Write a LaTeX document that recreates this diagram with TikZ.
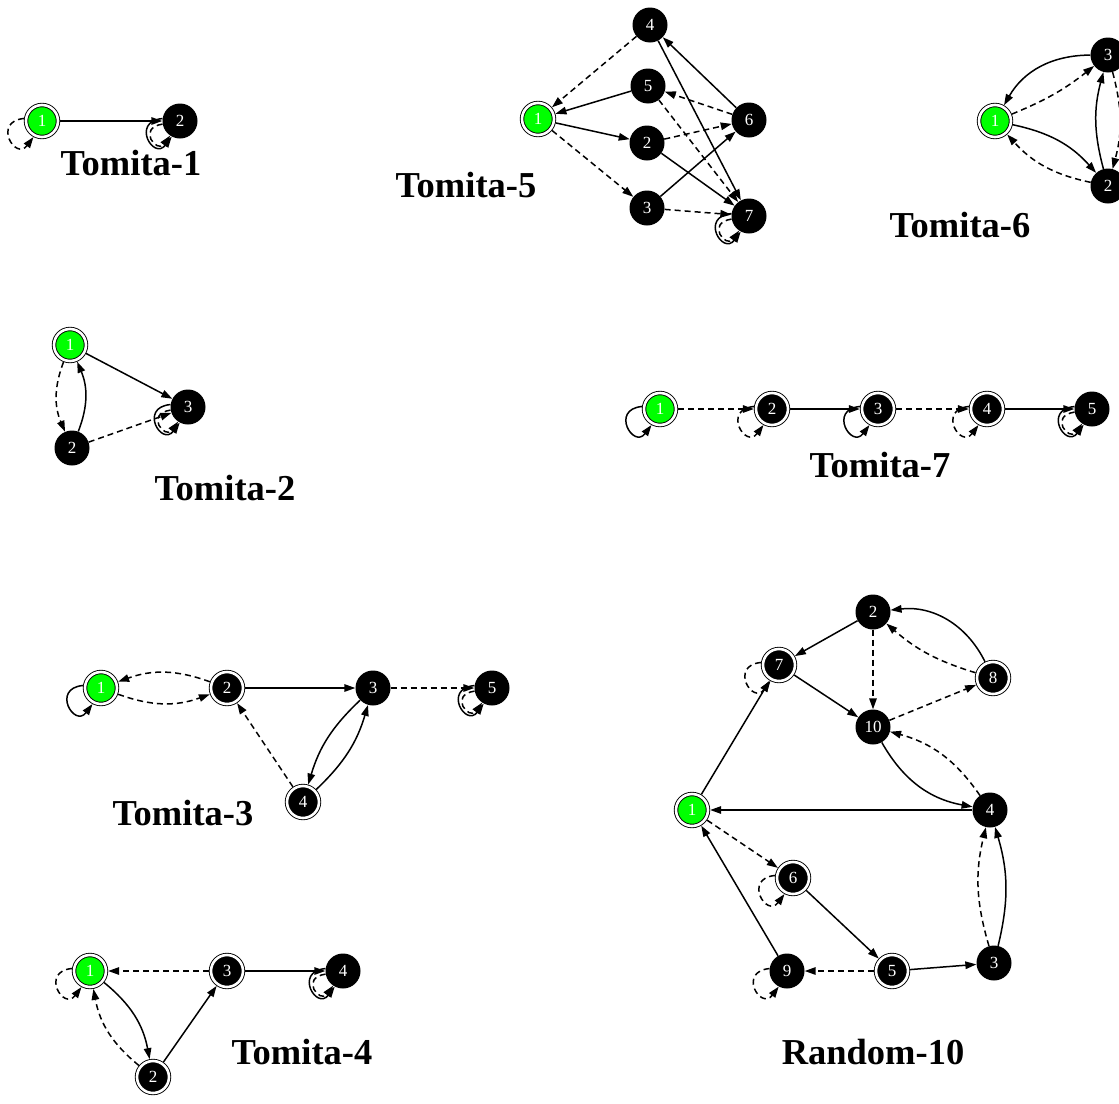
\documentclass[tikz,border=0pt]{standalone}
\usepackage{fontspec}
\setmainfont{Liberation Serif}
\usetikzlibrary{arrows.meta}
\newcommand\lpo[2]{\draw[#1] (#2.172) .. controls +(-32,3) and +(-18,24) .. (#2.242);}
\newcommand\lpi[2]{\draw[#1] (#2.190) .. controls +(-26,4) and +(-13,18) .. (#2.236);}
\begin{document}
\begin{tikzpicture}[x=1pt,y=-1pt,
  st/.style={circle, fill=black, minimum size=35pt, inner sep=0pt, text=white, font=\fontsize{17}{17}\selectfont},
  ac/.style={st, minimum size=32pt, draw=black, line width=0.9pt, double=white, double distance=2.6pt, outer sep=2.2pt},
  ini/.style={ac, fill=green},
  sol/.style={line width=1.5pt, -{Triangle[length=11pt,width=7.5pt]}},
  dsh/.style={sol, dash pattern=on 6pt off 4pt},
  title/.style={font=\fontsize{36.5}{36.5}\selectfont\bfseries}]
\useasboundingbox (0,0) rectangle (1119,1103);
\fill[white] (0,0) rectangle (1119,1103);

% Tomita-1
\node[ini] (a1) at (42,121) {1};
\node[st] (a2) at (180,121) {2};
\draw[sol] (a1) -- (a2);
\lpo{dsh}{a1}
\lpo{sol}{a2}\lpi{dsh}{a2}
\node[title] (t1) at (131,163) {Tomita-1};

% Tomita-5
\node[ini] (b1) at (538,119) {1};
\node[st] (b4) at (650,25) {4};
\node[st] (b5) at (648,86) {5};
\node[st] (b2) at (647,143) {2};
\node[st] (b3) at (647,208) {3};
\node[st] (b6) at (749,120) {6};
\node[st] (b7) at (749,216) {7};
\draw[dsh] (b4) -- (b1);
\draw[sol] (b5) -- (b1);
\draw[sol] (b1) -- (b2);
\draw[dsh] (b1) -- (b3);
\draw[dsh] (b2) -- (b6);
\draw[sol] (b2) -- (b7);
\draw[sol] (b3) -- (b6);
\draw[dsh] (b3) -- (b7);
\draw[dsh] (b5) -- (b7);
\draw[sol] (b4) -- (b7);
\draw[sol] (b6) -- (b4);
\draw[dsh] (b6) -- (b5);
\lpo{sol}{b7}\lpi{dsh}{b7}
\node[title] (t5) at (466,185) {Tomita-5};

% Tomita-6
\node[ini] (c1) at (995,121) {1};
\node[st] (c3) at (1108,55) {3};
\node[st] (c2) at (1108,186) {2};
\draw[sol] (c3) to[bend right=30] (c1);
\draw[dsh] (c1) to[bend right=8] (c3);
\draw[sol] (c1) to[bend left=18] (c2);
\draw[dsh] (c2) to[bend left=18] (c1);
\draw[sol] (c2) to[bend left=15] (c3);
\draw[dsh] (c3) to[bend left=15] (c2);
\node[title] (t6) at (960,225) {Tomita-6};

% Tomita-2
\node[ini] (d1) at (70,345) {1};
\node[st] (d3) at (188,407) {3};
\node[st] (d2) at (72,448) {2};
\draw[sol] (d1) -- (d3);
\draw[dsh] (d1) to[bend right=22] (d2);
\draw[sol] (d2) to[bend right=22] (d1);
\draw[dsh] (d2) -- (d3);
\lpo{sol}{d3}\lpi{dsh}{d3}
\node[title] (t2) at (225,488) {Tomita-2};

% Tomita-7
\node[ini] (e1) at (660,409) {1};
\node[ac] (e2) at (772,409) {2};
\node[ac] (e3) at (878,409) {3};
\node[ac] (e4) at (987,409) {4};
\node[st] (e5) at (1092,409) {5};
\draw[dsh] (e1) -- (e2);
\draw[sol] (e2) -- (e3);
\draw[dsh] (e3) -- (e4);
\draw[sol] (e4) -- (e5);
\lpo{sol}{e1}
\lpo{dsh}{e2}
\lpo{sol}{e3}
\lpo{dsh}{e4}
\lpo{sol}{e5}\lpi{dsh}{e5}
\node[title] (t7) at (880,465) {Tomita-7};

% Tomita-3
\node[ini] (f1) at (101,688) {1};
\node[ac] (f2) at (227,688) {2};
\node[st] (f3) at (373,688) {3};
\node[st] (f5) at (492,688) {5};
\node[ac] (f4) at (303,802) {4};
\draw[dsh] (f2) to[bend right=20] (f1);
\draw[dsh] (f1) to[bend right=20] (f2);
\draw[sol] (f2) -- (f3);
\draw[dsh] (f3) -- (f5);
\draw[dsh] (f4) -- (f2);
\draw[sol] (f3) to[bend right=15] (f4);
\draw[sol] (f4) to[bend right=15] (f3);
\lpo{sol}{f1}
\lpo{sol}{f5}\lpi{dsh}{f5}
\node[title] (t3) at (183,813) {Tomita-3};

% Tomita-4
\node[ini] (g1) at (90,971) {1};
\node[ac] (g3) at (227,971) {3};
\node[st] (g4) at (343,971) {4};
\node[ac] (g2) at (153,1077) {2};
\draw[dsh] (g3) -- (g1);
\draw[sol] (g3) -- (g4);
\draw[sol] (g1) to[bend left=20] (g2);
\draw[dsh] (g2) to[bend left=20] (g1);
\draw[sol] (g2) -- (g3);
\lpo{dsh}{g1}
\lpo{sol}{g4}\lpi{dsh}{g4}
\node[title] (t4) at (302,1052) {Tomita-4};

% Random-10
\node[st] (h2) at (873,612) {2};
\node[ac] (h7) at (779,665) {7};
\node[ac] (h8) at (993,678) {8};
\node[st] (h10) at (873,727) {10};
\node[ini] (h1) at (692,810) {1};
\node[st] (h4) at (990,810) {4};
\node[ac] (h6) at (793,878) {6};
\node[st] (h9) at (787,971) {9};
\node[ac] (h5) at (892,971) {5};
\node[st] (h3) at (994,963) {3};
\draw[sol] (h2) -- (h7);
\draw[dsh] (h2) -- (h10);
\draw[sol] (h8) to[bend right=35] (h2);
\draw[dsh] (h8) to[bend left=12] (h2);
\draw[sol] (h7) -- (h10);
\draw[dsh] (h10) -- (h8);
\draw[sol] (h1) -- (h7);
\draw[sol] (h4) -- (h1);
\draw[sol] (h10) to[bend right=25] (h4);
\draw[dsh] (h4) to[bend right=20] (h10);
\draw[dsh] (h1) -- (h6);
\draw[sol] (h6) -- (h5);
\draw[sol] (h9) -- (h1);
\draw[dsh] (h5) -- (h9);
\draw[sol] (h5) -- (h3);
\draw[dsh] (h3) to[bend left=15] (h4);
\draw[sol] (h3) to[bend right=15] (h4);
\lpo{dsh}{h7}
\lpo{dsh}{h6}
\lpo{dsh}{h9}
\node[title] (t10) at (873,1052) {Random-10};
\end{tikzpicture}
\end{document}
